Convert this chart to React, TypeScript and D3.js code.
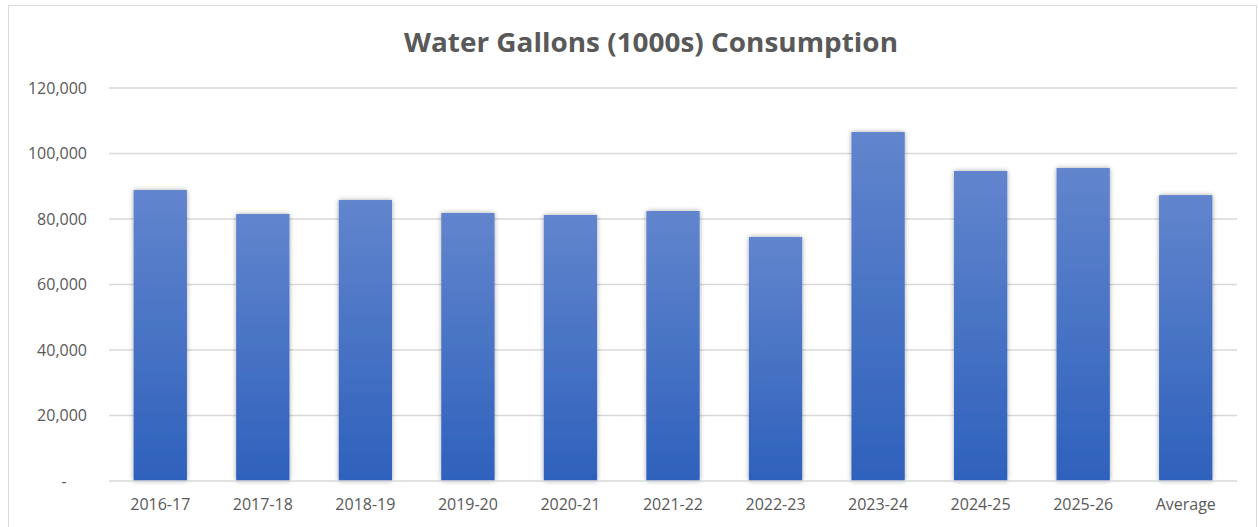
import React from "react";
import * as d3 from "d3";

const categories = ["2016-17","2017-18","2018-19","2019-20","2020-21","2021-22","2022-23","2023-24","2024-25","2025-26","Average"];
const values = [88850, 81520, 85800, 81830, 81220, 82440, 74500, 106560, 94660, 95570, 87300];
const yTicks = [0, 20000, 40000, 60000, 80000, 100000, 120000];
const title = "Water Gallons (1000s) Consumption";

const W = 1259, H = 527;
const left = 109, right = 1237, top = 88, bottom = 481;
const FONT = "'Open Sans', 'Noto Sans', sans-serif";

export default function App() {
  const x = d3.scaleBand<string>().domain(categories).range([left, right]).paddingInner(0.48).paddingOuter(0.24);
  const y = d3.scaleLinear().domain([0, 120000]).range([bottom, top]);
  const fmt = d3.format(",");
  return (
    <svg width={W} height={H} style={{ position: "absolute", left: 0, top: 0, background: "#fff" }}>
      <defs>
        <linearGradient id="barGrad" x1="0" y1="0" x2="0" y2="1">
          <stop offset="0" stopColor="#6285cd" />
          <stop offset="1" stopColor="#2e61bc" />
        </linearGradient>
        <filter id="sh" x="-30%" y="-10%" width="160%" height="120%">
          <feGaussianBlur in="SourceAlpha" stdDeviation="2.5" />
          <feComponentTransfer><feFuncA type="linear" slope="0.35" /></feComponentTransfer>
          <feMerge><feMergeNode /><feMergeNode in="SourceGraphic" /></feMerge>
        </filter>
      </defs>
      <rect x={8.5} y={5.5} width={1248} height={540} fill="#fff" stroke="#d9d9d9" strokeWidth={1} />
      <text x={651} y={52} textAnchor="middle" fontFamily={FONT} fontWeight="bold" fontSize={27} fill="#595959" textLength={494} lengthAdjust="spacingAndGlyphs">{title}</text>
      {yTicks.map(t => (
        <g key={t}>
          {t > 0 && <line x1={left} x2={right} y1={y(t)} y2={y(t)} stroke="#d9d9d9" strokeWidth={1.3} />}
          <text x={t === 0 ? 64 : 87} y={y(t)} dy="0.35em" textAnchor={t === 0 ? "middle" : "end"} fontFamily={FONT} fontSize={16} fill="#595959">{t === 0 ? "-" : fmt(t)}</text>
        </g>
      ))}
      {categories.map((c, i) => (
        <rect key={c} x={x(c)} y={y(values[i])} width={x.bandwidth()} height={bottom - y(values[i])} fill="url(#barGrad)" filter="url(#sh)" />
      ))}
      <line x1={left} x2={right} y1={bottom} y2={bottom} stroke="#d9d9d9" strokeWidth={1.3} />
      {categories.map(c => (
        <text key={c} x={(x(c) as number) + x.bandwidth() / 2} y={510} textAnchor="middle" fontFamily={FONT} fontSize={16} fill="#595959">{c}</text>
      ))}
    </svg>
  );
}
